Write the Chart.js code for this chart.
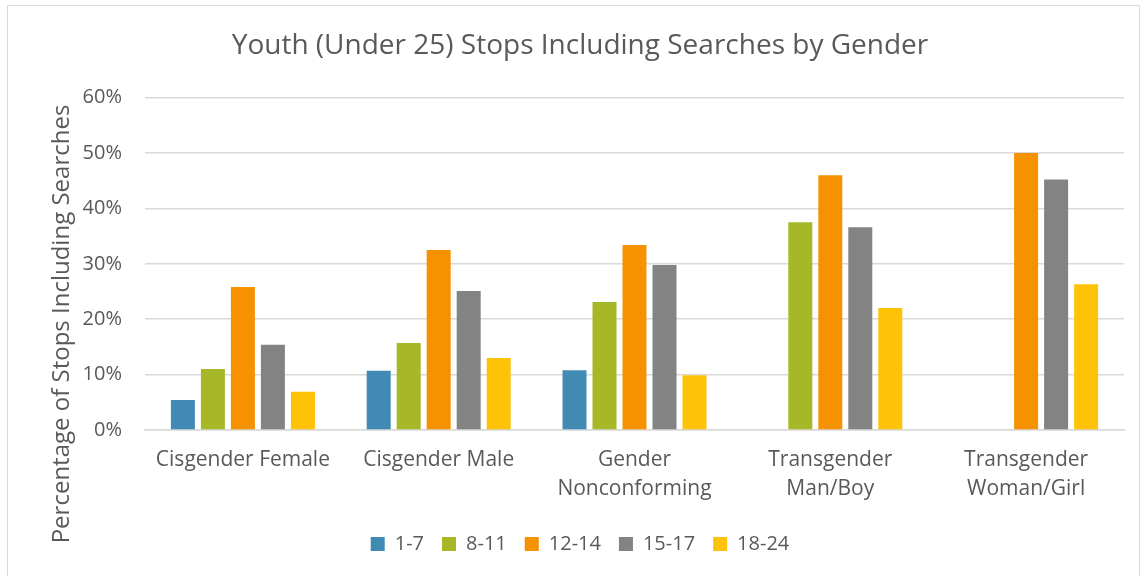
<!DOCTYPE html>
<html>
<head>
<meta charset="utf-8">
<script src="https://cdn.jsdelivr.net/npm/chart.js@4"></script>
<style>
  html, body { margin: 0; padding: 0; background: #fff; }
  .frame {
    position: absolute; left: 7px; top: 5px;
    width: 1133px; height: 571px;
    border: 1px solid #d9d9d9; border-bottom: none;
    box-sizing: border-box;
  }
  .wrap { position: absolute; left: 0; top: 0; width: 1143px; height: 577px; }
</style>
</head>
<body>
<div class="frame"></div>
<div class="wrap"><canvas id="chart"></canvas></div>
<script>
const genders = ['Cisgender Female', 'Cisgender Male', ['Gender', 'Nonconforming'], ['Transgender', 'Man/Boy'], ['Transgender', 'Woman/Girl']];
const ageGroups = ['1-7', '8-11', '12-14', '15-17', '18-24'];
const yTicks = [0, 10, 20, 30, 40, 50, 60];

// percent of stops including searches, one array per age group
const age1to7   = [5.4, 10.7, 10.8, null, null];
const age8to11  = [11.0, 15.7, 23.1, 37.5, null];
const age12to14 = [25.8, 32.5, 33.4, 46.0, 50.0];
const age15to17 = [15.4, 25.1, 29.8, 36.6, 45.2];
const age18to24 = [6.9, 13.0, 9.9, 22.0, 26.3];

const palette = ['#418ab3', '#a6b727', '#f69200', '#838383', '#fec306'];
const series = [age1to7, age8to11, age12to14, age15to17, age18to24];

const FONT = "'Open Sans', sans-serif";
const INK = '#595959';
const GRID = '#d9d9d9';

// rotated y-axis title, centred a little lower than the plot like the original layout
const yTitle = {
  id: 'yTitle',
  afterDraw(chart) {
    const ctx = chart.ctx;
    ctx.save();
    ctx.translate(62, 324);
    ctx.rotate(-Math.PI / 2);
    ctx.font = `24px ${FONT}`;
    ctx.fillStyle = INK;
    ctx.textAlign = 'center';
    ctx.textBaseline = 'middle';
    ctx.fillText('Percentage of Stops Including Searches', 0, 0);
    ctx.restore();
  }
};

new Chart(document.getElementById('chart'), {
  type: 'bar',
  data: {
    labels: genders,
    datasets: ageGroups.map((label, i) => ({
      label,
      data: series[i],
      backgroundColor: palette[i],
      barPercentage: 0.8,
      categoryPercentage: 0.766
    }))
  },
  options: {
    responsive: true,
    maintainAspectRatio: false,
    animation: false,
    layout: { padding: { left: 36, right: 19, top: 0, bottom: 13 } },
    plugins: {
      title: {
        display: true,
        text: 'Youth (Under 25) Stops Including Searches by Gender',
        color: INK,
        font: { family: FONT, size: 28, weight: 'normal' },
        padding: { top: 29, bottom: 35 }
      },
      legend: {
        position: 'bottom',
        labels: {
          color: INK,
          font: { family: FONT, size: 20 },
          boxWidth: 14,
          boxHeight: 14,
          padding: 18
        }
      },
      tooltip: { enabled: false }
    },
    scales: {
      x: {
        grid: { display: false },
        border: { color: GRID, width: 1.5 },
        ticks: {
          color: INK,
          font: { family: FONT, size: 21, lineHeight: 1.35 },
          padding: 8,
          maxRotation: 0,
          autoSkip: false
        },
        afterFit: s => { s.height = 86; }
      },
      y: {
        min: 0,
        max: 60,
        afterBuildTicks: s => { s.ticks = yTicks.map(v => ({ value: v })); },
        grid: { color: GRID, lineWidth: 1.5, drawTicks: false },
        border: { display: false },
        ticks: {
          color: INK,
          font: { family: FONT, size: 20 },
          padding: 23,
          callback: v => v + '%'
        },
        afterFit: s => { s.width = 109; }
      }
    }
  },
  plugins: [yTitle]
});
</script>
</body>
</html>
